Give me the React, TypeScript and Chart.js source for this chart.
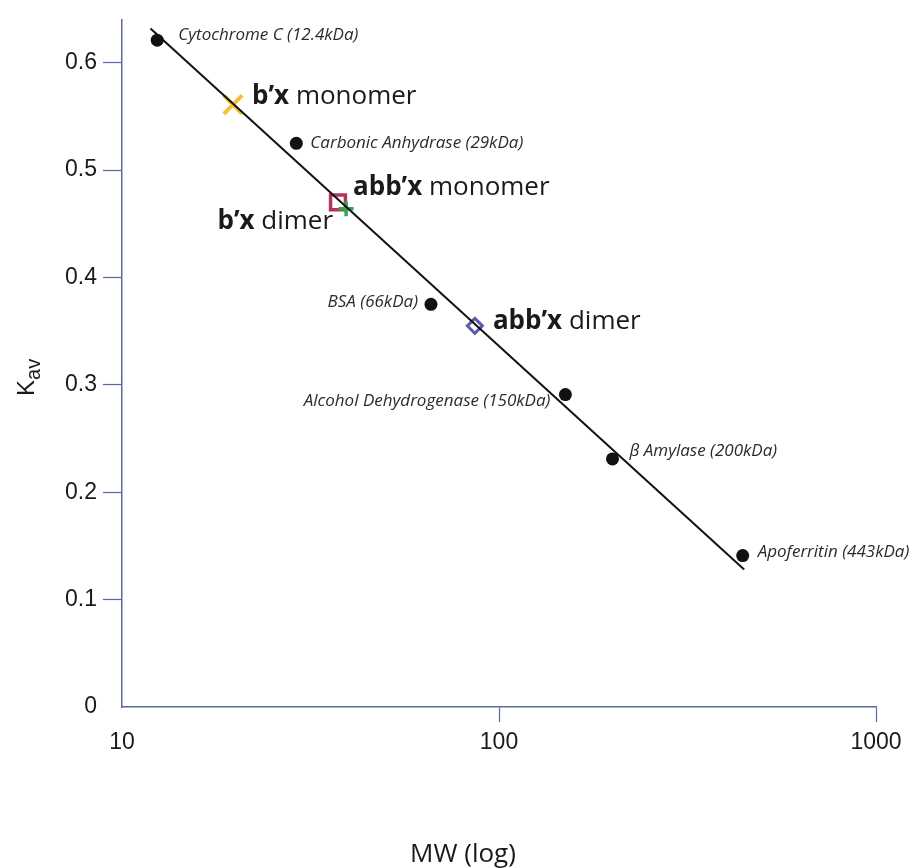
import React, { useEffect, useRef } from "react";
import { Chart, registerables } from "chart.js";

Chart.register(...registerables);

// ---- Data ----
const standardNames = [
  "Cytochrome C (12.4kDa)",
  "Carbonic Anhydrase (29kDa)",
  "BSA (66kDa)",
  "Alcohol Dehydrogenase (150kDa)",
  "β Amylase (200kDa)",
  "Apoferritin (443kDa)",
];
const standardMW = [12.4, 29, 66, 150, 200, 443];
const standardKav = [0.621, 0.525, 0.375, 0.291, 0.231, 0.141];

const sampleBold = ["b’x", "abb’x", "b’x", "abb’x"];
const sampleRest = [" monomer", " monomer", " dimer", " dimer"];
const sampleMW = [19.7, 37.4, 39.3, 86.3];
const sampleKav = [0.561, 0.47, 0.464, 0.355];

const fitMW = [11.9, 447];
const fitKav = [0.632, 0.128];

const xTickValues = [10, 100, 1000];
const yTickValues = [0, 0.1, 0.2, 0.3, 0.4, 0.5, 0.6];

// ---- Styles (not data) ----
const AXIS_COLOR = "#5b68a0";
const sampleColors = ["#f4c136", "#b5345a", "#2ea84a", "#5a5cae"];
const sampleStyles = ["crossRot", "rect", "cross", "rectRot"];
const sampleRadius = [13, 10.5, 7.5, 7.5];
const sampleWidth = [4, 3.5, 3.5, 3];
// label offsets in px relative to point: [dx, dy, align]
const standardLabelPos: [number, number, CanvasTextAlign][] = [
  [21, -5, "left"],
  [14, 0, "left"],
  [-13, -2, "right"],
  [-15, 7, "right"],
  [17, -8, "left"],
  [15, -3, "left"],
];
const sampleLabelPos: [number, number, CanvasTextAlign][] = [
  [19, -8, "left"],
  [15, -15, "left"],
  [-13, 13, "right"],
  [18, -4, "left"],
];

const labelPlugin = {
  id: "labels",
  afterDraw(chart: any) {
    const { ctx, scales, chartArea } = chart;
    const xs = scales.x;
    const ys = scales.y;
    ctx.save();
    ctx.textBaseline = "middle";
    // standards
    ctx.fillStyle = "#2b2b2b";
    ctx.font = "italic 17px 'Open Sans'";
    standardNames.forEach((name, i) => {
      const px = xs.getPixelForValue(standardMW[i]);
      const py = ys.getPixelForValue(standardKav[i]);
      const [dx, dy, align] = standardLabelPos[i];
      ctx.textAlign = align;
      ctx.fillText(name, px + dx, py + dy);
    });
    // samples
    ctx.fillStyle = "#1a1a1a";
    sampleBold.forEach((b, i) => {
      const px = xs.getPixelForValue(sampleMW[i]);
      const py = ys.getPixelForValue(sampleKav[i]);
      const [dx, dy, align] = sampleLabelPos[i];
      ctx.font = "bold 26px 'Open Sans'";
      const wb = ctx.measureText(b).width;
      ctx.font = "26px 'Open Sans'";
      const wr = ctx.measureText(sampleRest[i]).width;
      let left = px + dx;
      if (align === "right") left = px + dx - wb - wr;
      ctx.textAlign = "left";
      ctx.font = "bold 26px 'Open Sans'";
      ctx.fillText(b, left, py + dy);
      ctx.font = "26px 'Open Sans'";
      ctx.fillText(sampleRest[i], left + wb, py + dy);
    });
    // x axis title
    ctx.fillStyle = "#1a1a1a";
    ctx.font = "26px 'Open Sans'";
    ctx.textAlign = "center";
    ctx.textBaseline = "alphabetic";
    ctx.fillText("MW (log)", chartArea.left + 341, chartArea.bottom + 155);
    // y axis title K_av
    ctx.save();
    ctx.translate(34, chartArea.bottom - 311);
    ctx.rotate(-Math.PI / 2);
    ctx.textAlign = "left";
    ctx.font = "24px 'Liberation Sans'";
    ctx.fillText("K", 0, 0);
    const kw = ctx.measureText("K").width;
    ctx.font = "20px 'Liberation Sans'";
    ctx.fillText("av", kw, 6);
    ctx.restore();
    ctx.restore();
  },
};

export default function App() {
  const ref = useRef<HTMLCanvasElement | null>(null);
  useEffect(() => {
    if (!ref.current) return;
    const chart = new Chart(ref.current, {
      type: "scatter",
      data: {
        datasets: [
          {
            label: "fit",
            data: fitMW.map((x, i) => ({ x, y: fitKav[i] })),
            showLine: true,
            borderColor: "#111",
            borderWidth: 2,
            pointRadius: 0,
            order: 0,
          },
          {
            label: "samples",
            data: sampleMW.map((x, i) => ({ x, y: sampleKav[i] })),
            pointStyle: sampleStyles as any,
            pointRadius: sampleRadius,
            pointBorderWidth: sampleWidth,
            pointBorderColor: sampleColors,
            pointBackgroundColor: "rgba(255,255,255,0)",
            order: 1,
          } as any,
          {
            label: "standards",
            data: standardMW.map((x, i) => ({ x, y: standardKav[i] })),
            pointStyle: "circle",
            pointRadius: 6.5,
            pointBorderWidth: 0,
            pointBackgroundColor: "#111",
            pointBorderColor: "#111",
            order: 2,
          },
        ],
      },
      options: {
        responsive: false,
        animation: false,
        layout: { padding: { top: 17, right: 34, left: 0, bottom: 0 } },
        plugins: { legend: { display: false }, tooltip: { enabled: false } },
        scales: {
          x: {
            type: "logarithmic",
            min: 10,
            max: 1000,
            afterBuildTicks: (s: any) => {
              s.ticks = xTickValues.map((v) => ({ value: v }));
            },
            afterFit: (s: any) => {
              s.height = 161;
            },
            border: { display: true, color: AXIS_COLOR, width: 1.5 },
            grid: {
              drawOnChartArea: false,
              drawTicks: true,
              tickLength: 15,
              tickWidth: 1.2,
              tickColor: (c: any) => (c.tick && c.tick.value === 10 ? "rgba(0,0,0,0)" : AXIS_COLOR),
            },
            ticks: {
              color: "#1a1a1a",
              font: { family: "'Liberation Sans'", size: 23 },
              padding: 7,
              maxRotation: 0,
              callback: (v: any) => String(v),
            },
          },
          y: {
            type: "linear",
            min: 0,
            max: 0.64,
            afterBuildTicks: (s: any) => {
              s.ticks = yTickValues.map((v) => ({ value: v }));
            },
            afterFit: (s: any) => {
              s.width = 122;
            },
            border: { display: true, color: AXIS_COLOR, width: 1.5 },
            grid: {
              drawOnChartArea: false,
              drawTicks: true,
              tickLength: 19,
              tickWidth: 1.2,
              tickColor: (c: any) => (c.tick && c.tick.value === 0 ? "rgba(0,0,0,0)" : AXIS_COLOR),
            },
            ticks: {
              color: "#1a1a1a",
              font: { family: "'Liberation Sans'", size: 23 },
              padding: 6,
              callback: (v: any) => (Number(v) === 0 ? "0" : Number(v).toFixed(1)),
            },
          },
        },
      },
      plugins: [labelPlugin],
    });
    return () => chart.destroy();
  }, []);
  return (
    <div style={{ position: "absolute", left: 0, top: 0, width: 910, height: 868, background: "#fff" }}>
      <canvas ref={ref} width={910} height={868} style={{ display: "block", width: 910, height: 868 }} />
    </div>
  );
}
